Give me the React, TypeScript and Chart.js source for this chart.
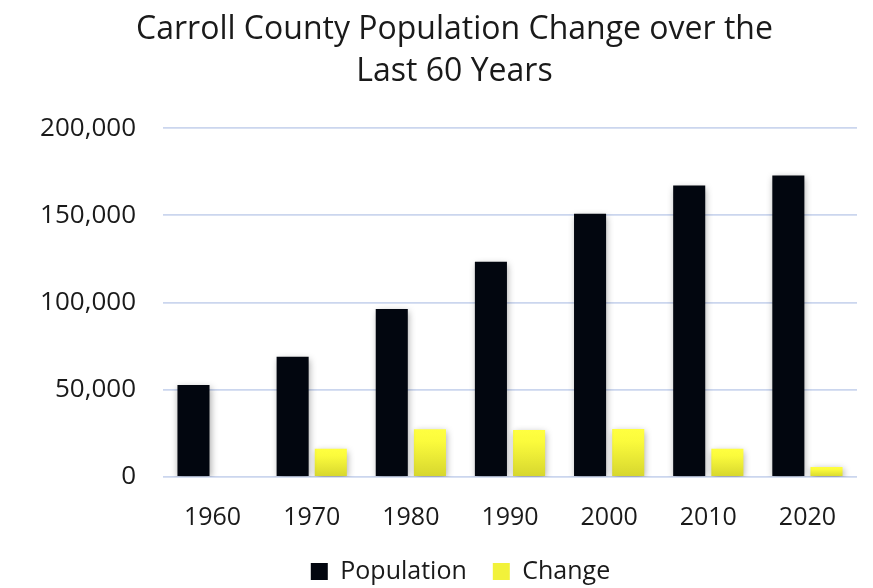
import React, { useEffect, useRef } from "react";
import { Chart, registerables } from "chart.js";

Chart.register(...registerables);

const years = ["1960", "1970", "1980", "1990", "2000", "2010", "2020"];
const population = [52785, 69006, 96356, 123372, 150897, 167134, 172891];
const change = [null, 16221, 27350, 27016, 27525, 16237, 5757];
const titleLines = ["Carroll County Population Change over the", "Last 60 Years"];

const FONT = "'Open Sans', 'Noto Sans', sans-serif";

const shadowPlugin = {
  id: "barShadow",
  afterLayout(chart: any) {
    if (chart.titleBlock) {
      chart.titleBlock.left += 26;
      chart.titleBlock.right += 26;
    }
    if (chart.legend) {
      chart.legend.left += 32;
      chart.legend.right += 32;
    }
  },
  beforeDatasetsDraw(chart: any) {
    const ctx = chart.ctx;
    ctx.save();
    ctx.shadowColor = "rgba(0,0,0,0.35)";
    ctx.shadowBlur = 7;
    ctx.shadowOffsetX = 1;
    ctx.shadowOffsetY = 2;
  },
  afterDatasetsDraw(chart: any) {
    chart.ctx.restore();
  },
};

function yellowFill(context: any) {
  const chart = context.chart;
  if (context.type !== "data" || !chart.chartArea || context.parsed == null) {
    return "#F2F23A";
  }
  const yScale = chart.scales.y;
  const top = yScale.getPixelForValue(context.parsed.y);
  const base = yScale.getPixelForValue(0);
  if (!isFinite(top) || !isFinite(base) || base - top < 1) return "#F2F23A";
  const g = chart.ctx.createLinearGradient(0, top, 0, base);
  g.addColorStop(0, "#FFFF40");
  g.addColorStop(0.25, "#FBFB3C");
  g.addColorStop(1, "#D6D62E");
  return g;
}

export default function App() {
  const ref = useRef<HTMLCanvasElement | null>(null);
  useEffect(() => {
    document.body.style.margin = "0";
    const chart = new Chart(ref.current as HTMLCanvasElement, {
      type: "bar",
      data: {
        labels: years,
        datasets: [
          {
            label: "Population",
            data: population,
            backgroundColor: "#02060F",
            borderWidth: 0,
            categoryPercentage: 0.77,
            barPercentage: 0.84,
          },
          {
            label: "Change",
            data: change as any,
            backgroundColor: yellowFill as any,
            borderWidth: 0,
            categoryPercentage: 0.77,
            barPercentage: 0.84,
          },
        ],
      },
      options: {
        animation: false,
        responsive: false,
        maintainAspectRatio: false,
        layout: { padding: { left: 0, right: 16, top: 0, bottom: -6 } },
        plugins: {
          title: {
            display: true,
            text: titleLines,
            color: "#1A1A1A",
            font: { family: FONT, size: 32, weight: "normal" as any, lineHeight: 1.3 },
            padding: { top: 9, bottom: 36 },
          },
          legend: {
            position: "bottom",
            labels: {
              color: "#1A1A1A",
              font: { family: FONT, size: 25 },
              boxWidth: 17,
              boxHeight: 17,
              padding: 26,
            },
          },
          tooltip: { enabled: false },
        },
        scales: {
          x: {
            grid: { display: false, drawTicks: false },
            border: { display: false },
            afterFit: (scale: any) => {
              scale.height = 56;
            },
            ticks: { color: "#1A1A1A", font: { family: FONT, size: 25 }, padding: 26 },
          },
          y: {
            min: 0,
            max: 200000,
            afterFit: (scale: any) => {
              scale.width = 163;
            },
            ticks: {
              stepSize: 50000,
              color: "#1A1A1A",
              font: { family: FONT, size: 26 },
              padding: 27,
            },
            grid: { color: "#CBD6EE", lineWidth: 1.8, drawTicks: false },
            border: { display: false },
          },
        },
      },
      plugins: [shadowPlugin],
    });
    return () => chart.destroy();
  }, []);
  return (
    <div style={{ width: 873, height: 588, background: "#fff" }}>
      <canvas ref={ref} width={873} height={588} />
    </div>
  );
}
